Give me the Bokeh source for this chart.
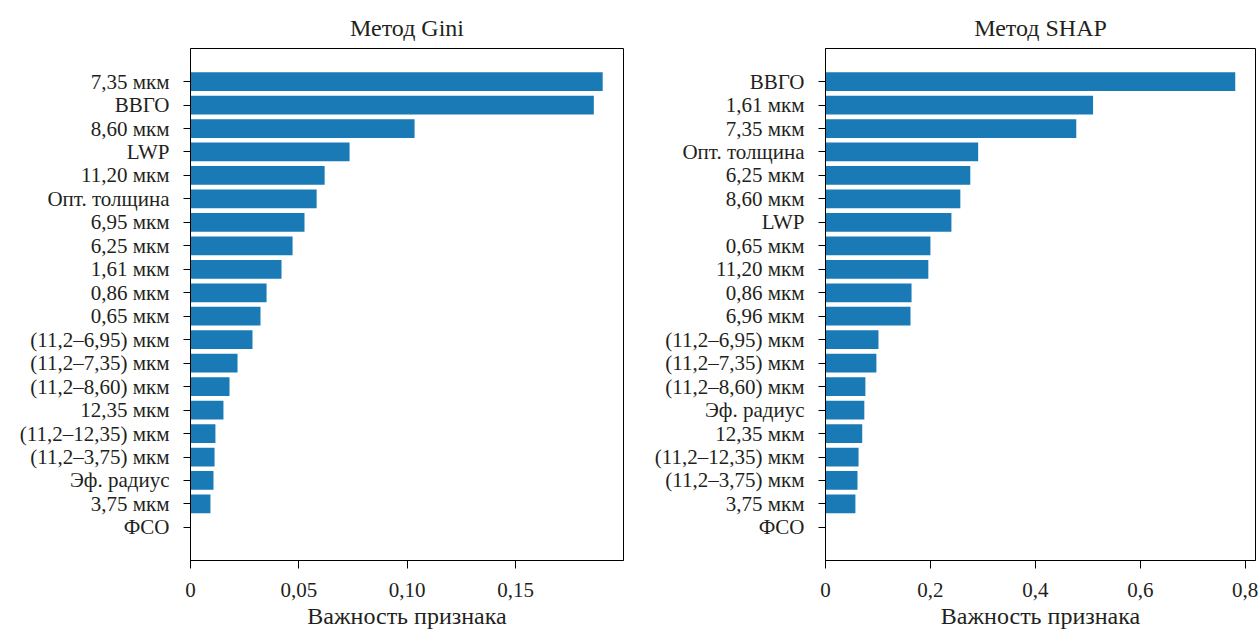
from bokeh.plotting import figure
from bokeh.models import FixedTicker, Range1d
from bokeh.layouts import row
from bokeh.embed import file_html
from bokeh.resources import INLINE

# ---------------- data ----------------
gini_features = ["7,35 мкм", "ВВГО", "8,60 мкм", "LWP", "11,20 мкм", "Опт. толщина",
                 "6,95 мкм", "6,25 мкм", "1,61 мкм", "0,86 мкм", "0,65 мкм",
                 "(11,2–6,95) мкм", "(11,2–7,35) мкм", "(11,2–8,60) мкм", "12,35 мкм",
                 "(11,2–12,35) мкм", "(11,2–3,75) мкм", "Эф. радиус", "3,75 мкм", "ФСО"]
gini_values = [0.1902, 0.1861, 0.1034, 0.0734, 0.0619, 0.0582,
               0.0526, 0.0471, 0.0420, 0.0351, 0.0323,
               0.0286, 0.0217, 0.0180, 0.0152,
               0.0115, 0.0111, 0.0106, 0.0092, 0.0]

shap_features = ["ВВГО", "1,61 мкм", "7,35 мкм", "Опт. толщина", "6,25 мкм", "8,60 мкм",
                 "LWP", "0,65 мкм", "11,20 мкм", "0,86 мкм", "6,96 мкм",
                 "(11,2–6,95) мкм", "(11,2–7,35) мкм", "(11,2–8,60) мкм", "Эф. радиус",
                 "12,35 мкм", "(11,2–12,35) мкм", "(11,2–3,75) мкм", "3,75 мкм", "ФСО"]
shap_values = [0.781, 0.510, 0.478, 0.291, 0.276, 0.257,
               0.240, 0.200, 0.196, 0.164, 0.162,
               0.101, 0.097, 0.076, 0.074,
               0.070, 0.063, 0.061, 0.057, 0.0]

gini_ticks = [0, 0.05, 0.10, 0.15]
gini_tick_labels = ["0", "0,05", "0,10", "0,15"]
shap_ticks = [0, 0.2, 0.4, 0.6, 0.8]
shap_tick_labels = ["0", "0,2", "0,4", "0,6", "0,8"]

gini_title = "Метод Gini"
shap_title = "Метод SHAP"
x_label = "Важность признака"

FONT = "Liberation Serif"
TXT = "#231f20"
BAR = "#1a7ab5"


def panel(title, feats, vals, ticks, tick_labels, xmax, width, bl, br):
    n = len(feats)
    pos = list(range(n))
    p = figure(width=width, height=633, output_backend="svg", toolbar_location=None,
               x_range=Range1d(0, xmax), y_range=Range1d(n - 1 + 1.41, -1.41),
               min_border_left=bl, min_border_right=br, min_border_top=48,
               min_border_bottom=73, title=title)
    p.hbar(y=pos, right=vals, left=0, height=0.8, color=BAR, line_color=None)
    p.xgrid.visible = False
    p.ygrid.visible = False
    p.outline_line_color = "black"
    p.outline_line_width = 1
    p.outline_line_alpha = 1
    p.title.align = "center"
    p.title.text_font = FONT
    p.title.text_font_size = "24px"
    p.title.text_font_style = "normal"
    p.title.text_color = TXT
    p.title.standoff = 15

    xa = p.xaxis[0]
    xa.ticker = FixedTicker(ticks=ticks)
    xa.major_label_overrides = {t: l for t, l in zip(ticks, tick_labels)}
    xa.axis_label = x_label
    ya = p.yaxis[0]
    ya.ticker = FixedTicker(ticks=pos)
    ya.major_label_overrides = {i: f for i, f in zip(pos, feats)}
    for ax in (xa, ya):
        ax.major_label_text_font = FONT
        ax.major_label_text_font_size = "21px"
        ax.major_label_text_color = TXT
        ax.axis_label_text_font = FONT
        ax.axis_label_text_font_size = "24px"
        ax.axis_label_text_font_style = "normal"
        ax.axis_label_text_color = TXT
        ax.minor_tick_line_color = None
        ax.major_tick_in = 0
        ax.axis_line_color = "black"
        ax.major_tick_line_color = "black"
    xa.major_tick_out = 8
    ya.major_tick_out = 7
    xa.major_label_standoff = 14
    xa.axis_label_standoff = 3
    ya.major_label_standoff = 14
    return p


p1 = panel(gini_title, gini_features, gini_values, gini_ticks, gini_tick_labels,
           0.1998, 650, 190, 27)
p2 = panel(shap_title, shap_features, shap_values, shap_ticks, shap_tick_labels,
           0.8196, 609, 175, 4)

layout = row(p1, p2)
open("out.html", "w").write(file_html(layout, INLINE))
